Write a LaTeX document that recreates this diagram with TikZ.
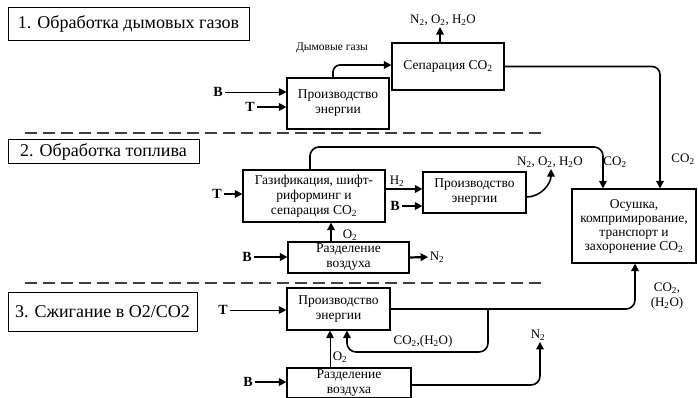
\documentclass[tikz,border=0pt]{standalone}
\usepackage{fontspec}
\setmainfont{Liberation Serif}
\usetikzlibrary{arrows.meta}
\newcommand\ssb[1]{\textsubscript{#1}}
\tikzset{
  box/.style={draw, line width=1.1pt, align=center, inner sep=0pt, font=\fontsize{13.5}{15}\selectfont},
  ttl/.style={draw, line width=0.9pt, inner sep=0pt, font=\fontsize{18}{20}\selectfont},
  lab/.style={inner sep=1.5pt, font=\fontsize{13}{15}\selectfont, align=center},
  blab/.style={inner sep=2pt, font=\fontsize{14}{14}\selectfont\bfseries},
  arr/.style={line width=1.6pt, -{Triangle[length=7.5pt,width=7.5pt]}},
  arrthin/.style={line width=0.9pt, -{Triangle[length=7.5pt,width=7.5pt]}},
  arrthick/.style={line width=2.2pt, -{Triangle[length=7.5pt,width=7.5pt]}},
  sepline/.style={line width=1.5pt, dash pattern=on 12pt off 6pt, black!75},
}
\begin{document}
\begin{tikzpicture}[x=1pt,y=-1pt]
\useasboundingbox (0,0) rectangle (698,398);
% titles
\node[ttl, minimum width=241, minimum height=33] (t1) at (128.5,23.5) {1. Обработка дымовых газов};
\node[ttl, minimum width=191, minimum height=24] (t2) at (103.5,151.5) {2. Обработка топлива};
\node[ttl, minimum width=189, minimum height=39] (t3) at (102.5,311.5) {3. Сжигание в O2/CO2};
% separators
\draw[sepline] (25,133) -- (543,133);
\draw[sepline] (25,283) -- (543,283);
% boxes
\node[box, minimum width=102, minimum height=51] (e1) at (338,103.5) {Производство\\энергии};
\node[box, minimum width=112, minimum height=47] (sep) at (448,66.5) {Сепарация CO\ssb{2}};
\node[box, minimum width=142, minimum height=52] (gas) at (314,196) {Газификация, шифт-\\риформинг и\\сепарация CO\ssb{2}};
\node[box, minimum width=103, minimum height=41] (e2) at (474.5,192.5) {Производство\\энергии};
\node[box, minimum width=121, minimum height=31] (as2) at (348.5,257.5) {Разделение\\воздуха};
\node[box, minimum width=124, minimum height=74, font=\fontsize{13.5}{14}\selectfont] (os) at (634,226) {Осушка,\\компримирование,\\транспорт и\\захоронение CO\ssb{2}};
\node[box, minimum width=103, minimum height=42] (e3) at (338.5,309) {Производство\\энергии};
\node[box, minimum width=124, minimum height=30] (as3) at (349,383) {Разделение\\воздуха};
% ---------- section 1
\node[blab] (b1) at (218,92) {В};
\draw[arrthin] (b1) -- (b1 -| e1.west);
\node[blab] (tt1) at (250,107) {Т};
\draw[arrthick] (tt1) -- (tt1 -| e1.west);
\node[lab, font=\fontsize{11.5}{12}\selectfont] (fg) at (332,48) {Дымовые газы};
\coordinate (c1) at (333,65);
\draw[arr, rounded corners=7] (c1 |- e1.north) -- (c1) -- (c1 -| sep.west);
\node[lab] (n1) at (443,20) {N\ssb{2}, O\ssb{2}, H\ssb{2}O};
\draw[arr] (sep.north -| 440,0) -- (n1.south -| 440,0);
\coordinate (c2) at (660,66.5);
\draw[arr, rounded corners=8] (sep.east) -- (c2) -- (c2 |- os.north);
\node[lab] (co2a) at (683,159) {CO\ssb{2}};
% ---------- section 2
\node[blab] (tt2) at (217,194) {Т};
\draw[arrthick] (tt2) -- (tt2 -| gas.west);
\coordinate (c3) at (310,147);
\coordinate (c4) at (603,147);
\draw[arr, rounded corners=9] (c3 |- gas.north) -- (c3) -- (c4) -- (c4 |- os.north);
\node[lab] (co2b) at (615,162) {CO\ssb{2}};
\coordinate (yh) at (0,189);
\draw[arr] (gas.east |- yh) -- (e2.west |- yh);
\node[lab] (h2) at (397,181) {H\ssb{2}};
\node[blab] (b2) at (395,206) {В};
\draw[arrthick] (b2) -- (b2 -| e2.west);
\node[lab] (n2) at (550,162) {N\ssb{2}, O\ssb{2}, H\ssb{2}O};
\coordinate (yo) at (0,197);
\draw[arr] (e2.east |- yo) to[out=0,in=-90] (n2.south -| 551,0);
\coordinate (x5) at (331,0);
\draw[arr] (as2.north -| x5) -- (gas.south -| x5);
\node[lab] (o2a) at (350,235) {O\ssb{2}};
\node[blab] (b3) at (247,257) {В};
\draw[arrthick] (b3) -- (b3 -| as2.west);
\node[lab] (n2b) at (437,257) {N\ssb{2}};
\draw[arrthick] (as2.east) -- (n2b.west);
% ---------- section 3
\node[blab] (tt3) at (223,310) {Т};
\draw[arrthin] (tt3) -- (tt3 -| e3.west);
\coordinate (c6) at (635,309);
\draw[arr, rounded corners=9] (e3.east) -- (c6) -- (c6 |- os.south);
\node[lab] (co2c) at (667,296) {CO\ssb{2},\\(H\ssb{2}O)};
\coordinate (c7) at (488,309);
\coordinate (c8) at (488,352);
\coordinate (c9) at (347,352);
\draw[arr, rounded corners=9] (c7) -- (c8) -- (c9) -- (c9 |- e3.south);
\node[lab] (rec) at (423,341) {CO\ssb{2},(H\ssb{2}O)};
\coordinate (x10) at (330,0);
\draw[arrthin] (as3.north -| x10) -- (e3.south -| x10);
\node[lab] (o2b) at (340,357) {O\ssb{2}};
\node[blab] (b4) at (248,382) {В};
\draw[arrthick] (b4) -- (b4 -| as3.west);
\node[lab] (n2c) at (538,335) {N\ssb{2}};
\coordinate (c11) at (540,385);
\draw[arr, rounded corners=9] (as3.east |- c11) -- (c11) -- (n2c.south -| c11);
\end{tikzpicture}
\end{document}
